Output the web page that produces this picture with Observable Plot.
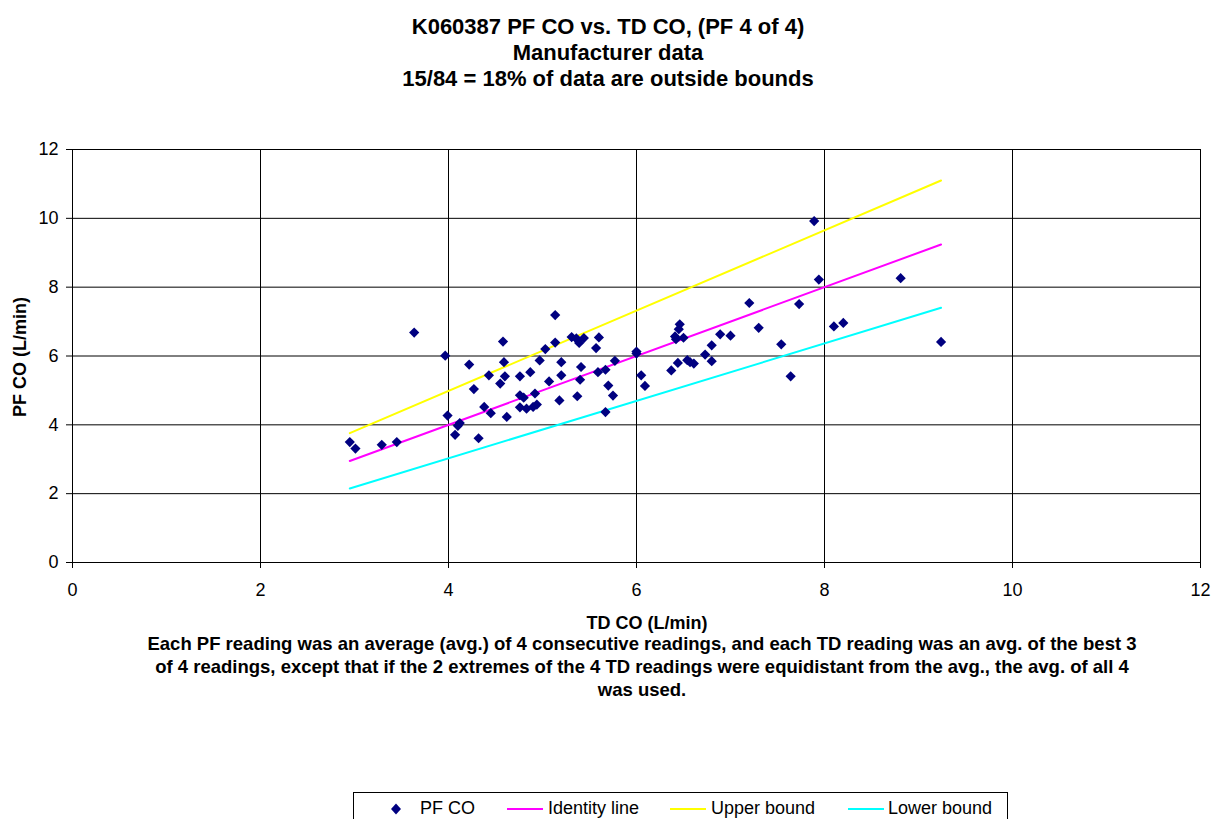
<!DOCTYPE html>
<html>
<head>
<meta charset="utf-8">
<script src="https://cdn.jsdelivr.net/npm/d3@7"></script>
<script src="https://cdn.jsdelivr.net/npm/@observablehq/plot@0.6"></script>
<style>
  html, body { margin: 0; padding: 0; background: #fff; }
  body { font-family: "Liberation Sans", Arial, sans-serif; }
  #wrap { position: relative; width: 1211px; height: 819px; overflow: hidden; }
  .abs { position: absolute; }
  #title { left: 0; width: 1216px; top: 14px; text-align: center; font-weight: bold; font-size: 22px; line-height: 26px; }
  #xlabel { left: 447px; width: 400px; top: 612px; text-align: center; font-weight: bold; font-size: 18px; line-height: 22px; }
  #ylabel { left: 20px; top: 357px; font-weight: bold; font-size: 18px; transform: translate(-50%, -50%) rotate(-90deg); white-space: nowrap; }
  #caption { left: 92px; width: 1100px; top: 632px; text-align: center; font-weight: bold; font-size: 18.5px; line-height: 23px; }
  #legend { left: 353px; top: 792px; width: 655px; height: 40px; border: 1px solid #000; box-sizing: border-box; font-size: 18px; }
  .item { position: absolute; top: 4px; line-height: 22px; white-space: nowrap; }
</style>
</head>
<body>
<div id="wrap">
  <div id="chart" class="abs" style="left:0;top:0"></div>
  <div id="title" class="abs">K060387 PF CO vs. TD CO, (PF 4 of 4)<br>Manufacturer data<br>15/84 = 18% of data are outside bounds</div>
  <div id="xlabel" class="abs">TD CO (L/min)</div>
  <div id="ylabel" class="abs">PF CO (L/min)</div>
  <div id="caption" class="abs">Each PF reading was an average (avg.) of 4 consecutive readings, and each TD reading was an avg. of the best 3<br>of 4 readings, except that if the 2 extremes of the 4 TD readings were equidistant from the avg., the avg. of all 4<br>was used.</div>
  <div id="legend" class="abs"></div>
</div>
<script>
// Data
const tdCO = [3.635,3.965,4.58,4.22,4.59,4.43,4.60,4.55,4.76,4.27,4.76,4.80,4.76,4.83,4.90,4.94,4.38,4.45,4.62,3.99,4.12,4.10,4.07,4.32,2.95,3.01,3.29,3.45,
  5.135,4.87,4.97,5.03,5.135,5.31,5.36,5.39,5.44,5.38,5.60,5.57,5.20,5.41,5.77,5.20,5.07,5.40,5.59,5.67,4.92,5.18,5.37,5.70,5.75,5.67,
  6.00,6.00,6.05,6.09,6.46,6.45,6.41,6.50,6.42,6.37,6.44,6.54,6.57,6.61,6.89,7.00,6.80,6.73,6.80,7.20,7.30,7.54,7.64,7.73,7.89,7.94,8.10,8.20,8.81,9.24];
const pfCO = [6.68,6.01,6.42,5.75,5.82,5.44,5.41,5.20,5.41,5.04,4.86,4.79,4.51,4.47,4.52,4.59,4.52,4.34,4.23,4.27,4.05,3.97,3.71,3.61,3.50,3.31,3.42,3.50,
  7.19,5.53,5.87,6.20,6.39,6.55,6.51,6.38,6.52,6.45,6.54,6.23,5.82,5.68,5.86,5.44,5.26,5.31,5.53,5.60,4.91,4.71,4.83,5.14,4.85,4.37,
  6.13,6.07,5.44,5.13,6.92,6.78,6.57,6.53,6.49,5.58,5.80,5.88,5.82,5.78,6.63,6.59,6.31,6.04,5.85,7.54,6.82,6.34,5.41,7.51,9.92,8.22,6.86,6.96,8.26,6.41];

const lineTD = [2.95, 9.24];
const identityLine = [2.95, 9.24];
const upperBound = [3.76, 11.10];
const lowerBound = [2.15, 7.40];

const xTicks = [0, 2, 4, 6, 8, 10, 12];
const yTicks = [0, 2, 4, 6, 8, 10, 12];

const seriesNames = ["PF CO", "Identity line", "Upper bound", "Lower bound"];
const seriesColors = ["#000080", "#FF00FF", "#FFFF00", "#00FFFF"];

const points = tdCO.map((x, i) => ({x, y: pfCO[i]}));
const lines = lineTD.map((x, i) => ({x, identity: identityLine[i], upper: upperBound[i], lower: lowerBound[i]}));

const chart = Plot.plot({
  width: 1211,
  height: 819,
  marginLeft: 72,
  marginRight: 11,
  marginTop: 149,
  marginBottom: 257,
  style: {fontFamily: "'Liberation Sans', Arial, sans-serif", fontSize: "18px", color: "#000", background: "transparent"},
  x: {domain: [0, 12], label: null},
  y: {domain: [0, 12], label: null},
  marks: [
    Plot.gridX(xTicks, {stroke: "#000", strokeOpacity: 1}),
    Plot.gridY(yTicks, {stroke: "#000", strokeOpacity: 1}),
    Plot.frame({stroke: "#000"}),
    Plot.axisX(xTicks, {tickSize: 6, tickPadding: 15, stroke: "#000", fill: "#000"}),
    Plot.axisY(yTicks, {tickSize: 6, tickPadding: 8, stroke: "#000", fill: "#000"}),
    Plot.line(lines, {x: "x", y: "upper", stroke: seriesColors[2], strokeWidth: 2}),
    Plot.line(lines, {x: "x", y: "identity", stroke: seriesColors[1], strokeWidth: 2}),
    Plot.line(lines, {x: "x", y: "lower", stroke: seriesColors[3], strokeWidth: 2}),
    Plot.dot(points, {x: "x", y: "y", symbol: "diamond2", r: 4.6, fill: seriesColors[0], stroke: "none"})
  ]
});
document.getElementById("chart").appendChild(chart);

// Legend
const legend = document.getElementById("legend");
const itemPos = [{sym: 36, text: 66}, {sym: 153, text: 194}, {sym: 316, text: 357}, {sym: 494, text: 534}];
seriesNames.forEach((name, i) => {
  const s = document.createElementNS("http://www.w3.org/2000/svg", "svg");
  s.setAttribute("width", 37); s.setAttribute("height", 16);
  s.style.position = "absolute"; s.style.left = itemPos[i].sym + "px"; s.style.top = "8px";
  if (i === 0) {
    s.innerHTML = `<path d="M6,2.5 L11,8 L6,13.5 L1,8 Z" fill="${seriesColors[0]}"/>`;
  } else {
    s.innerHTML = `<line x1="0" x2="36" y1="8" y2="8" stroke="${seriesColors[i]}" stroke-width="2"/>`;
  }
  legend.appendChild(s);
  const t = document.createElement("div");
  t.className = "item";
  t.style.left = itemPos[i].text + "px";
  t.textContent = name;
  legend.appendChild(t);
});
</script>
</body>
</html>
